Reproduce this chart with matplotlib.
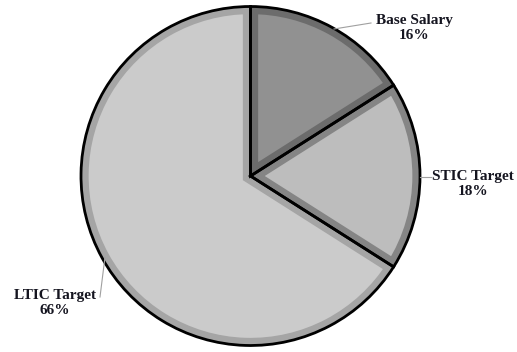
import matplotlib.pyplot as plt
from matplotlib.patches import Wedge

# pie data (clockwise from 12 o'clock)
labels = ["Base Salary", "STIC Target", "LTIC Target"]
shares = [16, 18, 66]
fill_colors = ["#919191", "#bdbdbd", "#cbcbcb"]
bevel_colors = ["#6c6c6c", "#858585", "#a5a5a5"]

W, H = 517, 352
cx, cy, r = 250.5, H - 176, 169.5

fig = plt.figure(figsize=(W / 100, H / 100), dpi=100)
ax = fig.add_axes([0, 0, 1, 1])

# filled wedges
wedges, _ = ax.pie(shares, colors=fill_colors, startangle=90, counterclock=False,
                   center=(cx, cy), radius=r, wedgeprops=dict(linewidth=0))

# darker inner rim: thick stroke clipped by the filled wedge
for w, bc in zip(wedges, bevel_colors):
    rim = Wedge(w.center, w.r, w.theta1, w.theta2, facecolor="none",
                edgecolor=bc, linewidth=11)
    ax.add_patch(rim)
    rim.set_clip_path(w)

# black outlines on top
for w in wedges:
    ax.add_patch(Wedge(w.center, w.r, w.theta1, w.theta2, fill=False,
                       edgecolor="black", linewidth=2.0))

ax.set_xlim(0, W)
ax.set_ylim(0, H)
ax.set_aspect("equal")
ax.axis("off")

# labels (pixel positions from the top-left corner)
txt = dict(ha="center", va="center", fontsize=11, fontweight="bold",
           family="Liberation Serif", color="#151520", linespacing=1.15)
ax.text(414, H - 28, "Base Salary\n16%", **txt)
ax.text(473, H - 184, "STIC Target\n18%", **txt)
ax.text(55, H - 303, "LTIC Target\n66%", **txt)

# leader lines
lc = dict(color="#a0a0a0", linewidth=0.8)
ax.plot([334, 371], [H - 29, H - 23], **lc)
ax.plot([420, 431], [H - 177, H - 177], **lc)
ax.plot([105, 100], [H - 257, H - 297], **lc)

fig.savefig("out.png", dpi=100)
